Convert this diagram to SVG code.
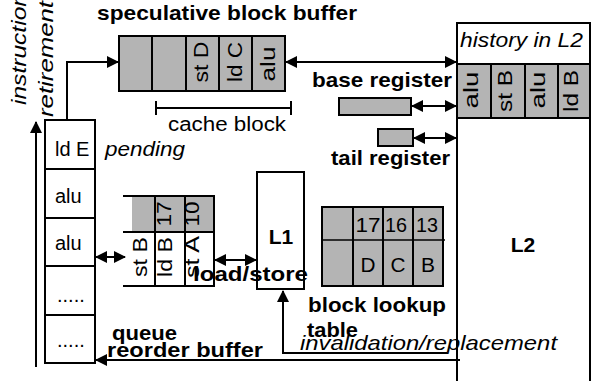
<svg xmlns="http://www.w3.org/2000/svg" width="593" height="381" viewBox="0 0 593 381">
<defs>
<style>
.ln{stroke:#000;stroke-width:2;fill:none}
.bx{stroke:#000;stroke-width:2;fill:#fff}
.gr{stroke:#000;stroke-width:2;fill:#b4b4b4}
.t{font-family:"Liberation Sans",Arial,sans-serif;font-size:20px;fill:#000}
.b{font-weight:bold;font-size:21px}
.i{font-style:italic;font-size:21px}
.m{text-anchor:middle}
</style>
<marker id="ah" viewBox="0 0 12 12" refX="11" refY="6" markerWidth="12" markerHeight="12" markerUnits="userSpaceOnUse" orient="auto-start-reverse"><path d="M0,0 L12,6 L0,12 z" fill="#000"/></marker>
</defs>
<rect width="593" height="381" fill="#fff"/>

<g id="connectors">
<line class="ln" x1="36" y1="367" x2="36" y2="122" marker-end="url(#ah)"/>
<polyline class="ln" points="67,120 67,62 118,62" marker-end="url(#ah)"/>
<line class="ln" x1="286" y1="62" x2="456" y2="62" marker-start="url(#ah)" marker-end="url(#ah)"/>
<line class="ln" x1="412" y1="106" x2="456" y2="106" marker-start="url(#ah)" marker-end="url(#ah)"/>
<line class="ln" x1="414" y1="138" x2="456" y2="138" marker-start="url(#ah)" marker-end="url(#ah)"/>
<line class="ln" x1="96" y1="257" x2="125" y2="257" marker-start="url(#ah)" marker-end="url(#ah)"/>
<line class="ln" x1="215" y1="260" x2="256" y2="260" marker-start="url(#ah)" marker-end="url(#ah)"/>
<polyline class="ln" points="447,353 283,353 283,291" marker-end="url(#ah)"/>
<line class="ln" x1="460" y1="360" x2="96" y2="360" marker-end="url(#ah)"/>
<path class="ln" d="M156,101 V115 M156,108 H291 M291,101 V115"/>
</g>

<g id="spec-buffer">
<rect class="gr" x="119" y="36" width="166" height="55"/>
<path class="ln" d="M152,36 V91 M186,36 V91 M219,36 V91 M252,36 V91"/>
<text class="t m" transform="translate(208,62) rotate(-90)" textLength="41" lengthAdjust="spacingAndGlyphs">st D</text>
<text class="t m" transform="translate(242,62) rotate(-90)" textLength="40" lengthAdjust="spacingAndGlyphs">ld C</text>
<text class="t m" transform="translate(275,64) rotate(-90)" textLength="35" lengthAdjust="spacingAndGlyphs">alu</text>
</g>

<g id="l2">
<path class="ln" d="M457,381 V23 H590 V381"/>
<rect class="gr" x="457" y="64" width="133" height="54"/>
<path class="ln" d="M491,64 V118 M525,64 V118 M558,64 V118"/>
<text class="t m" transform="translate(478,90) rotate(-90)" textLength="37" lengthAdjust="spacingAndGlyphs">alu</text>
<text class="t m" transform="translate(512,91) rotate(-90)" textLength="42" lengthAdjust="spacingAndGlyphs">st B</text>
<text class="t m" transform="translate(545,90) rotate(-90)" textLength="37" lengthAdjust="spacingAndGlyphs">alu</text>
<text class="t m" transform="translate(578,91) rotate(-90)" textLength="42" lengthAdjust="spacingAndGlyphs">ld B</text>
<text class="t i" x="460" y="47" textLength="123" lengthAdjust="spacingAndGlyphs">history in L2</text>
<text class="t b m" x="523" y="252" font-size="22">L2</text>
</g>

<g id="base-register">
<rect class="gr" x="339" y="98" width="72" height="17"/>
</g>
<g id="tail-register">
<rect class="gr" x="378" y="129" width="35" height="17"/>
</g>

<g id="rob">
<rect class="bx" x="45" y="120" width="50" height="243"/>
<path class="ln" d="M45,169 H95 M45,218 H95 M45,266 H95 M45,315 H95"/>
<text class="t" x="55" y="156" font-size="21">ld E</text>
<text class="t" x="55" y="203" font-size="21">alu</text>
<text class="t" x="55" y="250" font-size="21">alu</text>
<text class="t" x="57" y="302">.....</text>
<text class="t" x="57" y="347">.....</text>
</g>

<g id="lsq">
<rect x="132" y="196" width="82" height="36" fill="#b4b4b4"/>
<path class="ln" d="M123,196 H215 M123,232 H215 M123,286 H215 M155,196 V286 M185,196 V286 M214,196 V286"/>
<text class="t m" transform="translate(171,214) rotate(-90)" textLength="25" lengthAdjust="spacingAndGlyphs">17</text>
<text class="t m" transform="translate(199,214) rotate(-90)" textLength="25" lengthAdjust="spacingAndGlyphs">10</text>
<text class="t m" transform="translate(147,257) rotate(-90)" textLength="40" lengthAdjust="spacingAndGlyphs">st B</text>
<text class="t m" transform="translate(172,257) rotate(-90)" textLength="40" lengthAdjust="spacingAndGlyphs">ld B</text>
<text class="t m" transform="translate(199,257) rotate(-90)" textLength="42" lengthAdjust="spacingAndGlyphs">st A</text>
</g>

<g id="l1">
<rect class="bx" x="257" y="172" width="47" height="117"/>
<text class="t b m" x="281" y="244" font-size="22">L1</text>
</g>

<g id="lookup-table">
<rect class="gr" x="322" y="207" width="121" height="79"/>
<path class="ln" d="M353,207 V286 M383,207 V286 M413,207 V286"/>
<line x1="322" y1="240" x2="445" y2="240" stroke="#000" stroke-width="1.5"/>
<text class="t m" x="368" y="232" font-size="24" textLength="25" lengthAdjust="spacingAndGlyphs">17</text>
<text class="t m" x="396" y="232" font-size="24" textLength="22" lengthAdjust="spacingAndGlyphs">16</text>
<text class="t m" x="427" y="232" font-size="24" textLength="22" lengthAdjust="spacingAndGlyphs">13</text>
<text class="t m" x="368" y="272" font-size="23" textLength="15" lengthAdjust="spacingAndGlyphs">D</text>
<text class="t m" x="398" y="272" font-size="23" textLength="15" lengthAdjust="spacingAndGlyphs">C</text>
<text class="t m" x="428" y="272" font-size="23" textLength="14" lengthAdjust="spacingAndGlyphs">B</text>
</g>

<g id="labels">
<text class="t b" x="97" y="20" textLength="260" lengthAdjust="spacingAndGlyphs">speculative block buffer</text>
<text class="t b" x="312" y="87" textLength="140" lengthAdjust="spacingAndGlyphs">base register</text>
<text class="t b" x="331" y="165" textLength="119" lengthAdjust="spacingAndGlyphs">tail register</text>
<text class="t" x="168" y="131" font-size="21" textLength="118" lengthAdjust="spacingAndGlyphs">cache block</text>
<text class="t i" x="105" y="156" textLength="80" lengthAdjust="spacingAndGlyphs">pending</text>
<text class="t i" transform="translate(26,105) rotate(-90)" font-size="23" textLength="112" lengthAdjust="spacingAndGlyphs">instruction</text>
<text class="t i" transform="translate(53,117) rotate(-90)" font-size="23" textLength="116" lengthAdjust="spacingAndGlyphs">retirement</text>
<text class="t b" x="193" y="281" textLength="115" lengthAdjust="spacingAndGlyphs">load/store</text>
<text class="t b" x="308" y="312" textLength="138" lengthAdjust="spacingAndGlyphs">block lookup</text>
<text class="t b" x="307" y="337" textLength="51" lengthAdjust="spacingAndGlyphs">table</text>
<text class="t i" x="300" y="350" textLength="257" lengthAdjust="spacingAndGlyphs">invalidation/replacement</text>
<text class="t b" x="112" y="340" textLength="65" lengthAdjust="spacingAndGlyphs">queue</text>
<text class="t b" x="107" y="357" textLength="156" lengthAdjust="spacingAndGlyphs">reorder buffer</text>
</g>
</svg>
